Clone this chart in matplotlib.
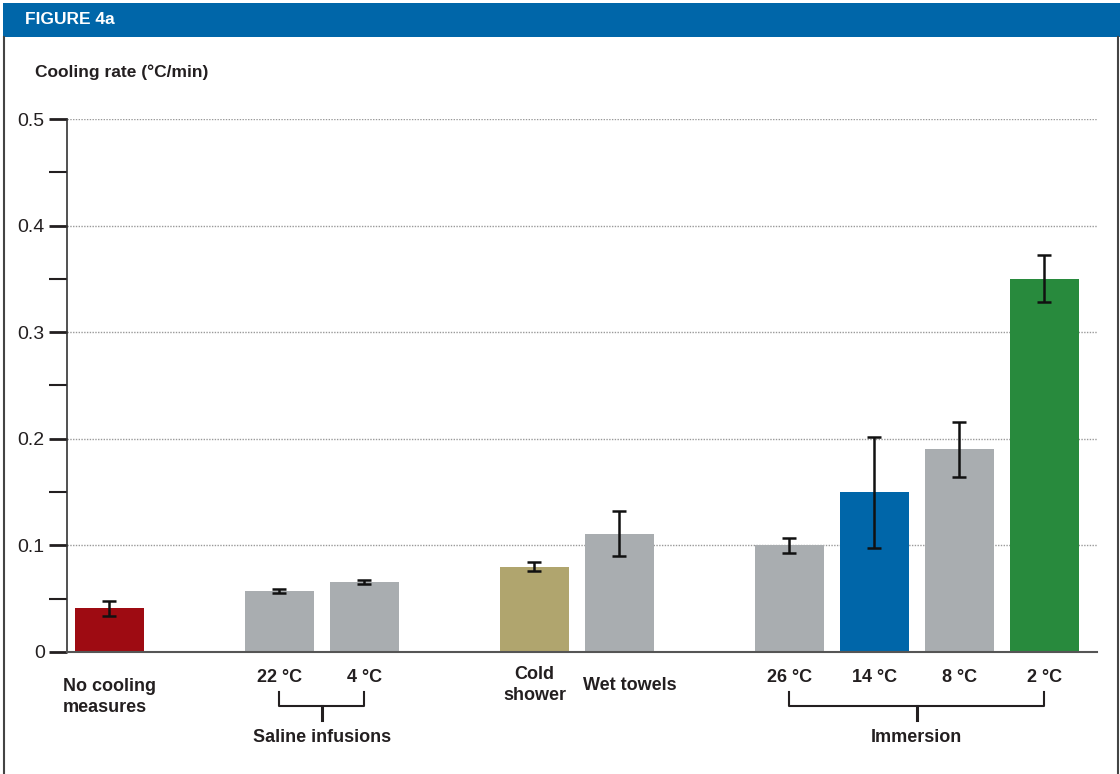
import matplotlib
matplotlib.use("Agg")
import matplotlib.pyplot as plt
from matplotlib.patches import Rectangle
from matplotlib.lines import Line2D
import numpy as np

plt.rcParams['font.family'] = ['Liberation Sans Narrow', 'Liberation Sans', 'DejaVu Sans']

# ---- data ----
categories = ["No cooling\nmeasures", "22 °C", "4 °C", "Cold\nshower", "Wet towels",
              "26 °C", "14 °C", "8 °C", "2 °C"]
clusters = ["none", "saline", "saline", "surface", "surface",
            "immersion", "immersion", "immersion", "immersion"]
values = [0.041, 0.057, 0.066, 0.080, 0.111, 0.100, 0.150, 0.190, 0.350]
errors = [0.007, 0.002, 0.002, 0.004, 0.021, 0.007, 0.052, 0.026, 0.022]
colors = ["#9e0b12", "#a9adb0", "#a9adb0", "#b0a56e", "#a9adb0",
          "#a9adb0", "#0066a9", "#a9adb0", "#288a3d"]
group_labels = {"saline": "Saline infusions", "immersion": "Immersion"}
yticks = [0, 0.1, 0.2, 0.3, 0.4, 0.5]
ytick_labels = ["0", "0.1", "0.2", "0.3", "0.4", "0.5"]

# positions: adjacent within cluster, gap of one slot between clusters
pos = []
p = 0
prev = None
for g in clusters:
    if prev is not None:
        p += 1 if g == prev else 2
    pos.append(p)
    prev = g
pos = np.array(pos, dtype=float)

W, H = 1120, 774
fig = plt.figure(figsize=(W / 100, H / 100), dpi=100)

# frame and header
fig.patches.append(Rectangle((3 / W, 1 - 37 / H), 1 - 3 / W, 34 / H, transform=fig.transFigure,
                             facecolor="#0066a9", edgecolor="none", zorder=0))
fig.add_artist(Line2D([3.5 / W, 3.5 / W], [0, 1 - 37 / H], color="#444444", lw=1.5))
fig.add_artist(Line2D([1117.5 / W, 1117.5 / W], [0, 1 - 37 / H], color="#444444", lw=1.5))
fig.text(25 / W, 1 - 19.5 / H, "FIGURE 4a", color="white", fontsize=12.5, fontweight="bold",
         ha="left", va="center")
fig.text(35 / W, 1 - 72 / H, "Cooling rate (°C/min)", color="#231f20", fontsize=12.5,
         fontweight="bold", ha="left", va="center")

ax = fig.add_axes([67 / W, 1 - 652 / H, (1097 - 67) / W, (652 - 119) / H])
ax.set_xlim(-0.5, 11.62)
ax.set_ylim(0, 0.5)

for y in yticks[1:]:
    ax.axhline(y, color="#999999", lw=1.0, ls=(0, (1, 1)), zorder=0)

ax.bar(pos, values, width=0.81, color=colors, zorder=2)
ax.errorbar(pos, values, yerr=errors, fmt="none", ecolor="#111111", elinewidth=1.8,
            capsize=5, capthick=1.8, zorder=3)

for s in ["top", "right"]:
    ax.spines[s].set_visible(False)
ax.spines["left"].set_color("#333333")
ax.spines["left"].set_linewidth(1.2)
ax.spines["bottom"].set_color("#555555")
ax.spines["bottom"].set_linewidth(1.5)

ax.set_yticks(yticks)
ax.set_yticklabels(ytick_labels)
ax.set_yticks(np.arange(0.05, 0.5, 0.1), minor=True)
ax.tick_params(axis="y", which="major", length=13, width=2, color="#231f20", labelsize=14,
               labelcolor="#231f20", pad=3)
ax.tick_params(axis="y", which="minor", length=13, width=1.5, color="#231f20")
ax.set_xticks([])


def ypix(py):
    return 1 - py / H


def to_fig(x):
    return ax.transData.transform((x, 0))[0] / W


for x, lab, g in zip(pos, categories, clusters):
    xf = to_fig(x)
    if g == "none":
        fig.text(xf, ypix(697), lab, ha="center", va="center", fontsize=13, fontweight="bold",
                 color="#231f20", multialignment="left", linespacing=1.25)
    elif lab.startswith("Cold"):
        fig.text(xf, ypix(685), lab, ha="center", va="center", fontsize=13, fontweight="bold",
                 color="#231f20", linespacing=1.25)
    elif lab.startswith("Wet"):
        fig.text(xf + 10 / W, ypix(686), lab, ha="center", va="center", fontsize=13,
                 fontweight="bold", color="#231f20")
    else:
        fig.text(xf, ypix(678), lab, ha="center", va="center", fontsize=13, fontweight="bold",
                 color="#231f20")

# group brackets
for g, glab in group_labels.items():
    xs = [to_fig(x) for x, gg in zip(pos, clusters) if gg == g]
    x0, x1 = xs[0], xs[-1]
    xm = (x0 + x1) / 2
    c = "#231f20"
    fig.add_artist(Line2D([x0, x0, x1, x1], [ypix(692), ypix(706), ypix(706), ypix(692)],
                          color=c, lw=1.5))
    fig.add_artist(Line2D([xm, xm], [ypix(706), ypix(720)], color=c, lw=2.2))
    fig.text(xm, ypix(737), glab, ha="center", va="center", fontsize=13, fontweight="bold",
             color=c)

fig.savefig("out.png", dpi=100)
